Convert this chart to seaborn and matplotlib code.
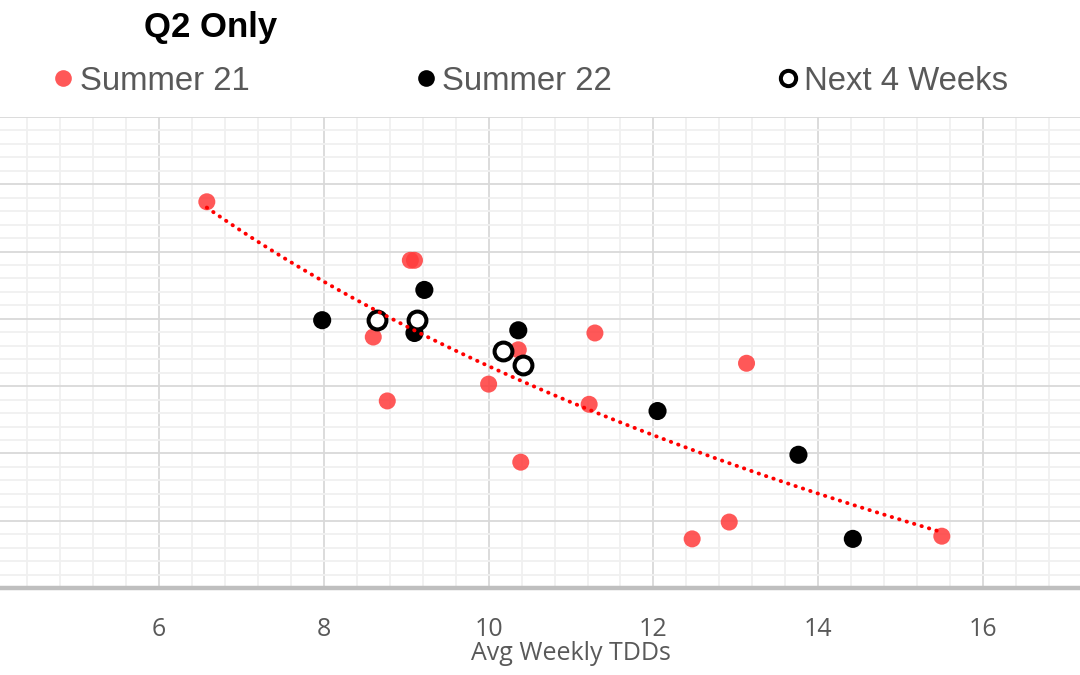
import numpy as np
import pandas as pd
import matplotlib.pyplot as plt
import seaborn as sns
from matplotlib.ticker import MultipleLocator, NullFormatter
from matplotlib.lines import Line2D

s21_x = [6.58, 9.05, 9.10, 8.60, 8.77, 10.36, 10.00, 10.39, 11.29, 11.22, 13.13, 12.47, 12.92, 15.50]
s21_y = [5.74, 4.87, 4.87, 3.73, 2.78, 3.54, 3.03, 1.87, 3.79, 2.73, 3.34, 0.73, 0.98, 0.77]

s22_x = [7.98, 9.22, 9.10, 10.36, 12.05, 13.76, 14.42]
s22_y = [3.98, 4.43, 3.79, 3.83, 2.63, 1.98, 0.73]

next_x = [8.65, 9.13, 10.17, 10.42]
next_y = [3.98, 3.98, 3.52, 3.31]

labels = ['Summer 21', 'Summer 22', 'Next 4 Weeks']

df21 = pd.DataFrame({'tdd': s21_x, 'val': s21_y})
df22 = pd.DataFrame({'tdd': s22_x, 'val': s22_y})
dfnext = pd.DataFrame({'tdd': next_x, 'val': next_y})

sns.set_style('white')
plt.rcParams['font.family'] = ['Liberation Sans', 'DejaVu Sans']

red = '#FF3B3B'
fig = plt.figure(figsize=(10.8, 6.75), dpi=100)
ax = fig.add_axes([0, 0.12889, 1, 0.69778])

sns.scatterplot(data=df21, x='tdd', y='val', color=red, alpha=0.85, s=150,
                edgecolor='none', ax=ax, zorder=3)
sns.scatterplot(data=df22, x='tdd', y='val', color='black', s=170,
                edgecolor='none', ax=ax, zorder=4)
sns.scatterplot(data=dfnext, x='tdd', y='val', facecolor='white', s=165,
                edgecolor='black', linewidth=2.9, ax=ax, zorder=5)

# logarithmische Trendlinie (Summer 21)
sns.regplot(data=df21, x='tdd', y='val', logx=True, scatter=False, ci=None, ax=ax,
            line_kws={'color': '#FF0000', 'lw': 2.8, 'ls': (0, (0.1, 1.9)),
                      'dash_capstyle': 'round', 'zorder': 6})

ax.set_xlim(4.07, 17.177)
ax.set_ylim(0, 7)
ax.xaxis.set_major_locator(MultipleLocator(2))
ax.xaxis.set_minor_locator(MultipleLocator(0.4))
ax.yaxis.set_major_locator(MultipleLocator(1))
ax.yaxis.set_minor_locator(MultipleLocator(0.2))
ax.yaxis.set_major_formatter(NullFormatter())
ax.grid(which='major', color='#D9D9D9', lw=1.3)
ax.grid(which='minor', color='#F0F0F0', lw=1.3)
ax.set_axisbelow(True)
for side in ['left', 'right', 'top']:
    ax.spines[side].set_visible(False)
ax.spines['bottom'].set_color('#BFBFBF')
ax.spines['bottom'].set_linewidth(3.2)
ax.tick_params(axis='both', which='both', length=0)
ax.tick_params(axis='x', labelsize=18, labelcolor='#595959', pad=21)
for lab in ax.get_xticklabels():
    lab.set_family(['Open Sans', 'DejaVu Sans'])

ax.set_ylabel('')
ax.set_xlabel('Avg Weekly TDDs', fontsize=18, color='#595959',
              family=['Open Sans', 'DejaVu Sans'])
ax.xaxis.set_label_coords(571 / 1080, -0.112)

fig.text(211 / 1080, 1 - 28 / 675, 'Q2 Only', ha='center', va='center',
         fontsize=25, fontweight='bold', color='black')

handles = [
    Line2D([], [], ls='none', marker='o', ms=12, color=red, alpha=0.85, mec='none'),
    Line2D([], [], ls='none', marker='o', ms=12, color='black', mec='none'),
    Line2D([], [], ls='none', marker='o', ms=11, mfc='white', mec='black', mew=2.9),
]
leg = fig.legend(handles, labels, loc='center left', bbox_to_anchor=(55 / 1080, 1 - 81 / 675),
                 ncol=3, frameon=False, fontsize=23.7, handlelength=0.5, handletextpad=0.25,
                 columnspacing=5.1, borderpad=0, borderaxespad=0)
for t in leg.get_texts():
    t.set_color('#595959')

plt.savefig('out.png', dpi=100)
